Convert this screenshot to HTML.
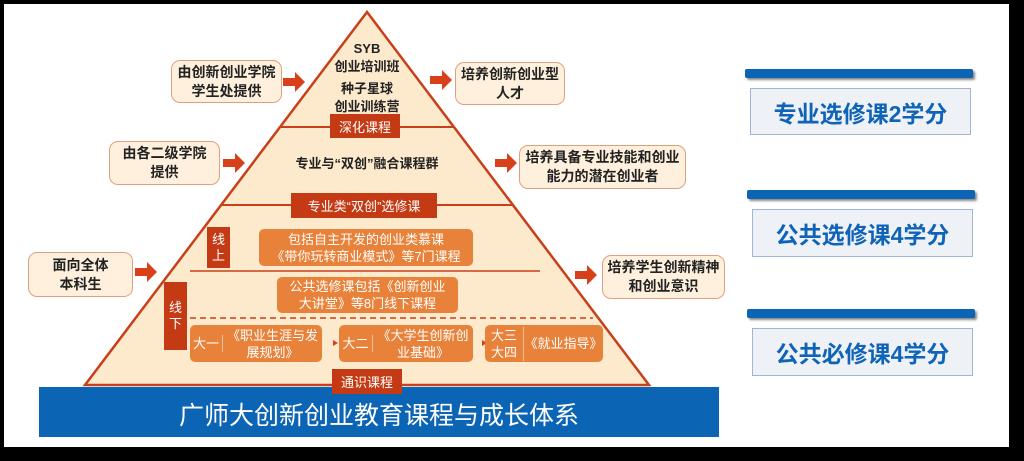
<!DOCTYPE html>
<html><head><meta charset="utf-8"><style>
body{margin:0;width:1024px;height:461px;background:#000;position:relative;overflow:hidden;font-family:"Liberation Sans","Noto Sans CJK SC",sans-serif;}
.a{position:absolute;box-sizing:border-box;}
.wb{background:#fef0dc;border:1.5px solid #e0a080;border-radius:9px;display:flex;align-items:center;justify-content:center;text-align:center;font-size:14px;line-height:19px;color:#222;font-weight:bold;}
.lab{background:#c43a14;color:#fff;font-size:13px;display:flex;align-items:center;justify-content:center;}
.ob{background:#e8823a;color:#fff;border-radius:5px;display:flex;align-items:center;justify-content:center;text-align:center;font-size:13px;line-height:17px;}
.bar{background:#0c64b4;height:9px;border-radius:2px;box-shadow:2px 2px 2px #888;}
.cb{background:#eef1f6;border:1.5px solid #9fb6d8;color:#0f64b8;font-size:23px;font-weight:bold;display:flex;align-items:center;justify-content:center;}
.t{font-size:13px;color:#222;text-align:center;line-height:17px;font-weight:bold;}
</style></head><body>
<div class="a" style="left:4px;top:4px;width:1005px;height:443px;background:#fff"></div>
<svg class="a" style="left:0;top:0" width="1024" height="461">
<polygon points="367,12 85,385 649,385" fill="#fde9cc" stroke="#c8401a" stroke-width="2.5"/>
<line x1="280" y1="127" x2="454" y2="127" stroke="#c8401a" stroke-width="2"/>
<line x1="222" y1="205" x2="513" y2="205" stroke="#c8401a" stroke-width="2"/>
<line x1="190" y1="271" x2="540" y2="271" stroke="#c8401a" stroke-width="1.5"/>
<line x1="190" y1="318" x2="593" y2="318" stroke="#c8401a" stroke-width="1.5" stroke-dasharray="6,4"/>
<g fill="#d8401a">
<path d="M283,78h12v-6l10,10l-10,10v-6h-12z"/>
<path d="M223,159h12v-6l10,10l-10,10v-6h-12z"/>
<path d="M135,268h12v-6l10,10l-10,10v-6h-12z"/>
<path d="M430,76h12v-6l10,10l-10,10v-6h-12z"/>
<path d="M495,159h12v-6l10,10l-10,10v-6h-12z"/>
<path d="M575,271h12v-6l10,10l-10,10v-6h-12z"/>
<path d="M323,343h10v-3l5,3l-5,3v-3z"/>
<path d="M474,343h8v-3l5,3l-5,3v-3z"/>
</g>
</svg>
<div class="a t" style="left:317px;top:40px;width:100px;line-height:18px">SYB<br>创业培训班</div>
<div class="a t" style="left:317px;top:80px;width:100px;line-height:18px">种子星球<br>创业训练营</div>
<div class="a lab" style="left:330px;top:114px;width:70px;height:24px">深化课程</div>
<div class="a t" style="left:250px;top:155px;width:234px">专业与“双创”融合课程群</div>
<div class="a lab" style="left:291px;top:193px;width:146px;height:25px">专业类“双创”选修课</div>
<div class="a lab" style="left:207px;top:227px;width:23px;height:41px;line-height:16px;text-align:center">线<br>上</div>
<div class="a lab" style="left:164px;top:282px;width:23px;height:68px;line-height:16px;text-align:center">线<br>下</div>
<div class="a ob" style="left:259px;top:229px;width:214px;height:37px">包括自主开发的创业类慕课<br>《带你玩转商业模式》等7门课程</div>
<div class="a ob" style="left:277px;top:277px;width:181px;height:36px">公共选修课包括《创新创业<br>大讲堂》等8门线下课程</div>
<div class="a ob" style="left:190px;top:325px;width:132px;height:37px"><span style="width:32px;border-right:1px solid #f5c09a">大一</span><span style="flex:1">《职业生涯与发<br>展规划》</span></div>
<div class="a ob" style="left:339px;top:325px;width:134px;height:37px"><span style="width:33px;border-right:1px solid #f5c09a">大二</span><span style="flex:1">《大学生创新创<br>业基础》</span></div>
<div class="a ob" style="left:485px;top:325px;width:118px;height:37px"><span style="width:38px;border-right:1px solid #f5c09a">大三<br>大四</span><span style="flex:1">《就业指导》</span></div>
<div class="a" style="left:39px;top:387px;width:680px;height:50px;background:#0c64b4;color:#fff;font-size:25px;display:flex;align-items:center;justify-content:center;padding-top:4px">广师大创新创业教育课程与成长体系</div>
<div class="a lab" style="left:332px;top:369px;width:70px;height:25px">通识课程</div>
<div class="a wb" style="left:171px;top:60px;width:111px;height:43px">由创新创业学院<br>学生处提供</div>
<div class="a wb" style="left:109px;top:141px;width:111px;height:44px">由各二级学院<br>提供</div>
<div class="a wb" style="left:28px;top:252px;width:105px;height:45px">面向全体<br>本科生</div>
<div class="a wb" style="left:455px;top:62px;width:110px;height:43px">培养创新创业型<br>人才</div>
<div class="a wb" style="left:519px;top:145px;width:167px;height:44px">培养具备专业技能和创业<br>能力的潜在创业者</div>
<div class="a wb" style="left:602px;top:255px;width:123px;height:44px">培养学生创新精神<br>和创业意识</div>
<div class="a bar" style="left:745px;top:69px;width:228px"></div>
<div class="a cb" style="left:750px;top:88px;width:221px;height:47px">专业选修课2学分</div>
<div class="a bar" style="left:747px;top:190px;width:228px"></div>
<div class="a cb" style="left:752px;top:209px;width:221px;height:48px">公共选修课4学分</div>
<div class="a bar" style="left:747px;top:309px;width:228px"></div>
<div class="a cb" style="left:752px;top:328px;width:221px;height:48px">公共必修课4学分</div>
</body></html>
